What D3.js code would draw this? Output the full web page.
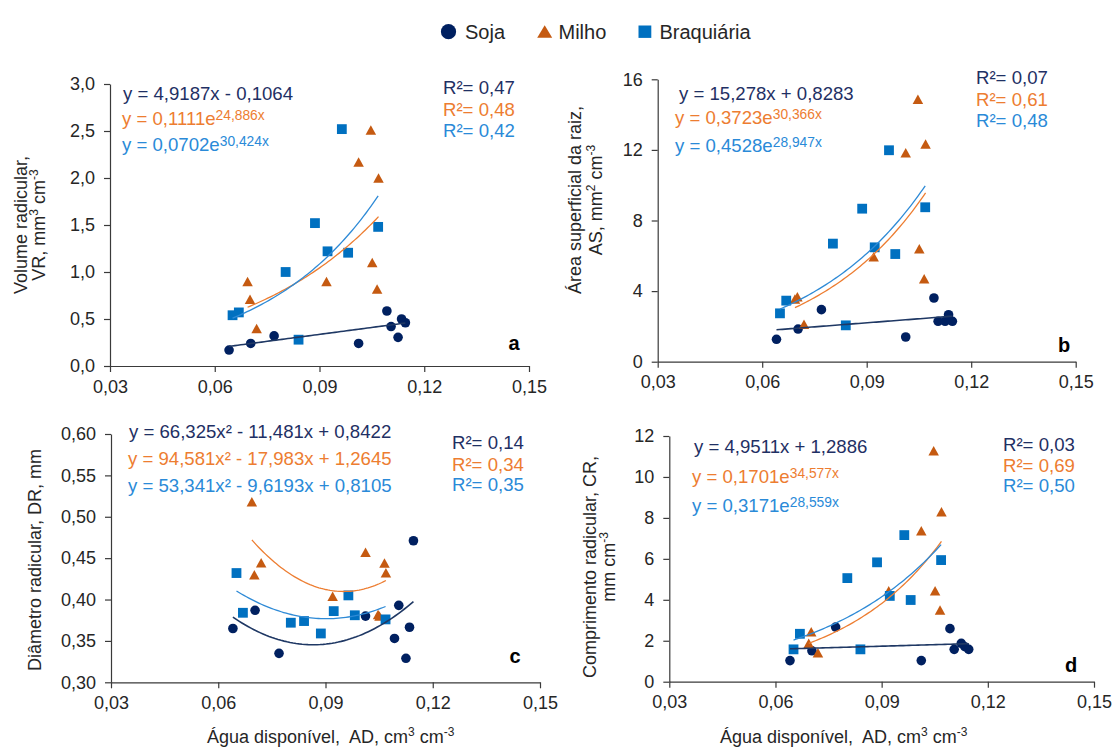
<!DOCTYPE html>
<html>
<head>
<meta charset="utf-8">
<script src="https://cdn.jsdelivr.net/npm/d3@7"></script>
<style>
  html, body { margin: 0; padding: 0; background: #fff; }
  svg { display: block; font-family: Arial, "Liberation Sans", sans-serif; }
</style>
</head>
<body>
<svg id="chart" width="1120" height="747"></svg>
<script>
// Available water (AD, cm3 cm-3) of each sample, per crop
const adSoja  = [0.0641, 0.0703, 0.0770, 0.1012, 0.1093, 0.1105, 0.1125, 0.1135, 0.1146];
const adMilho = [0.0694, 0.0701, 0.0720, 0.0920, 0.1012, 0.1047, 0.1051, 0.1065, 0.1069];
const adBraq  = [0.0651, 0.0669, 0.0803, 0.0840, 0.0887, 0.0923, 0.0964, 0.0982, 0.1068];

// a) Root volume, VR (mm3 cm-3)
const vrSoja  = [0.17, 0.24, 0.32, 0.24, 0.585, 0.42, 0.305, 0.50, 0.46];
const vrMilho = [0.90, 0.71, 0.40, 0.90, 2.17, 2.51, 1.10, 0.82, 2.00];
const vrBraq  = [0.54, 0.57, 1.00, 0.28, 1.52, 1.22, 2.52, 1.205, 1.48];

// b) Root surface area, AS (mm2 cm-3)
const asSoja  = [1.27, 1.85, 2.95, 1.40, 3.61, 2.29, 2.29, 2.66, 2.29];
const asMilho = [3.55, 3.68, 2.12, 5.95, 11.84, 14.87, 6.40, 4.70, 12.33];
const asBraq  = [2.74, 3.46, 6.69, 2.06, 8.67, 6.48, 11.98, 6.10, 8.75];

// c) Root diameter, DR (mm)
const drSoja  = [0.365, 0.387, 0.335, 0.380, 0.353, 0.393, 0.329, 0.3665, 0.471];
const drMilho = [0.518, 0.430, 0.4445, 0.404, 0.457, 0.382, 0.380, 0.444, 0.4325];
const drBraq  = [0.432, 0.384, 0.372, 0.374, 0.359, 0.386, 0.405, 0.381, 0.376];

// d) Root length, CR (mm cm-3)
const crSoja  = [1.03, 1.51, 2.67, 1.03, 2.59, 1.58, 1.875, 1.71, 1.58];
const crMilho = [1.875, 2.44, 1.42, 4.44, 7.37, 11.28, 4.44, 3.50, 8.30];
const crBraq  = [1.58, 2.34, 5.06, 1.58, 5.83, 4.19, 7.16, 3.99, 5.94];

// Fitted models: linear [a, b] -> a*x + b ; exponential [a, b] -> a*e^(b*x) ; quadratic [a, b, c] -> a*x^2 + b*x + c
const fitVR = { soja: ["lin", [4.9187, -0.1064]], milho: ["exp", [0.1111, 24.886]], braq: ["exp", [0.0702, 30.424]] };
const fitAS = { soja: ["lin", [15.278, 0.8283]], milho: ["exp", [0.3723, 30.366]], braq: ["exp", [0.4528, 28.947]] };
const fitDR = { soja: ["quad", [66.325, -11.481, 0.8422]], milho: ["quad", [94.581, -17.983, 1.2645]], braq: ["quad", [53.341, -9.6193, 0.8105]] };
const fitCR = { soja: ["lin", [4.9511, 1.2886]], milho: ["exp", [0.1701, 34.577]], braq: ["exp", [0.3171, 28.559]] };

// Coefficients of determination
const r2VR = ["0,47", "0,48", "0,42"];
const r2AS = ["0,07", "0,61", "0,48"];
const r2DR = ["0,14", "0,34", "0,35"];
const r2CR = ["0,03", "0,69", "0,50"];

// Axis ticks
const xTicks = [0.03, 0.06, 0.09, 0.12, 0.15];
const yTicksVR = [0, 0.5, 1.0, 1.5, 2.0, 2.5, 3.0];
const yTicksAS = [0, 4, 8, 12, 16];
const yTicksDR = [0.30, 0.35, 0.40, 0.45, 0.50, 0.55, 0.60];
const yTicksCR = [0, 2, 4, 6, 8, 10, 12];

const seriesNames = ["Soja", "Milho", "Braquiária"];

const C = {
  soja: "#002060", milho: "#C55A11", braq: "#0070C0",
  sojaLine: "#1F3864", milhoLine: "#ED7D31", braqLine: "#2E8AD6",
  sojaText: "#1F3064", milhoText: "#ED7D31", braqText: "#2A8AD8",
  axis: "#3a3a3a", text: "#262626"
};

const ptBR = d3.formatLocale({ decimal: ",", thousands: ".", grouping: [3], currency: ["R$", ""] });
const svg = d3.select("#chart");

// text with optional superscript pieces: parts = ["plain", {sup: "..."}, ...]
function rich(g, x, y, parts, color, size, supSize) {
  const t = g.append("text").attr("x", x).attr("y", y)
    .attr("fill", color).attr("font-size", size);
  let raised = 0;
  parts.forEach(p => {
    if (typeof p === "string") {
      t.append("tspan").attr("dy", raised ? raised : null).text(p);
      raised = 0;
    } else {
      const shift = p.shift || 5;
      t.append("tspan").attr("dy", -shift + raised).attr("font-size", p.size || supSize).text(p.sup);
      raised = shift;
    }
  });
  return t;
}

function triPath(w, h) {
  return `M0,${-h / 2}L${w / 2},${h / 2}L${-w / 2},${h / 2}Z`;
}

function curveFn(fit) {
  const [type, k] = fit;
  if (type === "lin") return x => k[0] * x + k[1];
  if (type === "exp") return x => k[0] * Math.exp(k[1] * x);
  return x => k[0] * x * x + k[1] * x + k[2];
}

function panel(cfg) {
  const g = svg.append("g");
  const x = d3.scaleLinear().domain([0.03, 0.15]).range([cfg.x0, cfg.x1]);
  const y = d3.scaleLinear().domain(cfg.yDomain).range([cfg.yB, cfg.yT]);

  const xAxis = d3.axisBottom(x).tickValues(xTicks).tickFormat(ptBR.format(".2f"))
    .tickSize(6).tickSizeOuter(0).tickPadding(8);
  const yAxis = d3.axisLeft(y).tickValues(cfg.yTicks).tickFormat(ptBR.format(cfg.yFmt))
    .tickSize(6).tickSizeOuter(0).tickPadding(9);

  const gx = g.append("g").attr("transform", `translate(0,${cfg.yB})`).call(xAxis);
  const gy = g.append("g").attr("transform", `translate(${cfg.x0},0)`).call(yAxis);
  [gx, gy].forEach(a => {
    a.selectAll("path, line").attr("stroke", C.axis).attr("stroke-width", 1.2);
    a.selectAll("text").attr("fill", C.text).attr("font-size", 18)
      .attr("font-family", "Arial, 'Liberation Sans', sans-serif");
  });

  // markers
  const ser = [
    { xs: adSoja, ys: cfg.data[0], kind: "circle", color: C.soja },
    { xs: adMilho, ys: cfg.data[1], kind: "tri", color: C.milho },
    { xs: adBraq, ys: cfg.data[2], kind: "square", color: C.braq }
  ];
  ser.forEach(s => {
    const pts = s.xs.map((v, i) => [v, s.ys[i]]);
    if (s.kind === "circle") {
      g.append("g").selectAll("circle").data(pts).join("circle")
        .attr("cx", d => x(d[0])).attr("cy", d => y(d[1])).attr("r", 4.8).attr("fill", s.color);
    } else if (s.kind === "tri") {
      g.append("g").selectAll("path").data(pts).join("path")
        .attr("d", triPath(10.5, 9.5))
        .attr("transform", d => `translate(${x(d[0])},${y(d[1])})`).attr("fill", s.color);
    } else {
      g.append("g").selectAll("rect").data(pts).join("rect")
        .attr("x", d => x(d[0]) - 4.9).attr("y", d => y(d[1]) - 4.9)
        .attr("width", 9.8).attr("height", 9.8).attr("fill", s.color);
    }
  });

  // trend lines over the range of each series
  const fits = [
    { fit: cfg.fits.soja, xs: adSoja, color: C.sojaLine, w: 1.6 },
    { fit: cfg.fits.milho, xs: adMilho, color: C.milhoLine, w: 1.3 },
    { fit: cfg.fits.braq, xs: adBraq, color: C.braqLine, w: 1.3 }
  ];
  const line = d3.line().x(d => x(d[0])).y(d => y(d[1]));
  fits.forEach(f => {
    const fn = curveFn(f.fit);
    const [lo, hi] = d3.extent(f.xs);
    const pts = d3.range(0, 61).map(i => { const v = lo + (hi - lo) * i / 60; return [v, fn(v)]; });
    g.append("path").datum(pts).attr("d", line).attr("fill", "none")
      .attr("stroke", f.color).attr("stroke-width", f.w);
  });

  // equations
  const eqColors = [C.sojaText, C.milhoText, C.braqText];
  cfg.eqs.forEach((e, i) => rich(g, e.x, e.y, e.parts, eqColors[i], 18.6, 13.8));

  // R² labels
  cfg.r2.forEach((v, i) => {
    g.append("text").attr("x", cfg.r2x).attr("y", cfg.r2y[i])
      .attr("fill", eqColors[i]).attr("font-size", 18.6).text("R²= " + v);
  });

  // panel letter
  g.append("text").attr("x", cfg.letter[1]).attr("y", cfg.letter[2])
    .attr("text-anchor", "middle").attr("font-weight", "bold").attr("font-size", 20)
    .attr("fill", "#000").text(cfg.letter[0]);

  // y axis title (one or two lines, rotated)
  cfg.yTitle.forEach(l => {
    const t = svg.append("text")
      .attr("transform", `translate(${l.x},${l.y}) rotate(-90)`)
      .attr("text-anchor", "middle").attr("dy", "0.35em")
      .attr("fill", C.text).attr("font-size", 18);
    l.parts.forEach(p => {
      if (typeof p === "string") t.append("tspan").text(p);
      else t.append("tspan").attr("font-size", 12).attr("baseline-shift", "super").text(p.sup);
    });
  });

  // x axis title
  if (cfg.xTitle) {
    const t = svg.append("text").attr("x", cfg.xTitle[0]).attr("y", cfg.xTitle[1])
      .attr("fill", C.text).attr("font-size", 18);
    ["Água disponível,\u00A0 AD, cm", { sup: "3" }, " cm", { sup: "-3" }].forEach(p => {
      if (typeof p === "string") t.append("tspan").text(p);
      else t.append("tspan").attr("font-size", 12).attr("baseline-shift", "super").text(p.sup);
    });
  }
}

panel({
  x0: 110, x1: 529, yT: 84, yB: 366, yDomain: [0, 3], yTicks: yTicksVR, yFmt: ".1f",
  data: [vrSoja, vrMilho, vrBraq], fits: fitVR, r2: r2VR,
  eqs: [
    { x: 123, y: 100, parts: ["y = 4,9187x - 0,1064"] },
    { x: 122, y: 125, parts: ["y = 0,1111e", { sup: "24,886x" }] },
    { x: 122, y: 151, parts: ["y = 0,0702e", { sup: "30,424x" }] }
  ],
  r2x: 443, r2y: [94, 116, 137],
  letter: ["a", 514, 350],
  yTitle: [
    { x: 21, y: 225, parts: ["Volume radicular,"] },
    { x: 39, y: 225, parts: ["VR, mm", { sup: "3" }, " cm", { sup: "-3" }] }
  ]
});

panel({
  x0: 657.7, x1: 1075.7, yT: 79.3, yB: 361.7, yDomain: [0, 16], yTicks: yTicksAS, yFmt: "d",
  data: [asSoja, asMilho, asBraq], fits: fitAS, r2: r2AS,
  eqs: [
    { x: 679, y: 100, parts: ["y = 15,278x + 0,8283"] },
    { x: 675, y: 124, parts: ["y = 0,3723e", { sup: "30,366x" }] },
    { x: 675, y: 152, parts: ["y = 0,4528e", { sup: "28,947x" }] }
  ],
  r2x: 976, r2y: [84, 106, 127],
  letter: ["b", 1064, 352],
  yTitle: [
    { x: 575, y: 200, parts: ["Área superficial da raiz,"] },
    { x: 596, y: 200, parts: ["AS, mm", { sup: "2" }, " cm", { sup: "-3" }] }
  ]
});

panel({
  x0: 111, x1: 540, yT: 434, yB: 682.3, yDomain: [0.30, 0.60], yTicks: yTicksDR, yFmt: ".2f",
  data: [drSoja, drMilho, drBraq], fits: fitDR, r2: r2DR,
  eqs: [
    { x: 129, y: 438, parts: ["y = 66,325x² - 11,481x + 0,8422"] },
    { x: 128, y: 465, parts: ["y = 94,581x² - 17,983x + 1,2645"] },
    { x: 128, y: 492, parts: ["y = 53,341x² - 9,6193x + 0,8105"] }
  ],
  r2x: 452, r2y: [449, 471, 491],
  letter: ["c", 515, 663],
  yTitle: [
    { x: 35, y: 560, parts: ["Diâmetro radicular, DR, mm"] }
  ],
  xTitle: [207, 743]
});

panel({
  x0: 669.3, x1: 1094, yT: 436, yB: 681.7, yDomain: [0, 12], yTicks: yTicksCR, yFmt: "d",
  data: [crSoja, crMilho, crBraq], fits: fitCR, r2: r2CR,
  eqs: [
    { x: 694, y: 453, parts: ["y = 4,9511x + 1,2886"] },
    { x: 692, y: 483, parts: ["y = 0,1701e", { sup: "34,577x" }] },
    { x: 692, y: 512, parts: ["y = 0,3171e", { sup: "28,559x" }] }
  ],
  r2x: 1003, r2y: [451, 472, 492],
  letter: ["d", 1071, 672],
  yTitle: [
    { x: 590, y: 567, parts: ["Comprimento radicular, CR,"] },
    { x: 609, y: 567, parts: ["mm cm", { sup: "-3" }] }
  ],
  xTitle: [720, 743]
});

// legend
const lg = svg.append("g");
lg.append("circle").attr("cx", 448.5).attr("cy", 31.7).attr("r", 7.6).attr("fill", C.soja);
lg.append("path").attr("d", triPath(15, 12.5)).attr("transform", "translate(544.7,31.5)").attr("fill", C.milho);
lg.append("rect").attr("x", 638.5).attr("y", 25.5).attr("width", 12.8).attr("height", 12.4).attr("fill", C.braq);
[[465, seriesNames[0]], [558.5, seriesNames[1]], [659.5, seriesNames[2]]].forEach(([lx, s]) => {
  lg.append("text").attr("x", lx).attr("y", 38.5).attr("font-size", 20).attr("fill", C.text).text(s);
});
</script>
</body>
</html>
